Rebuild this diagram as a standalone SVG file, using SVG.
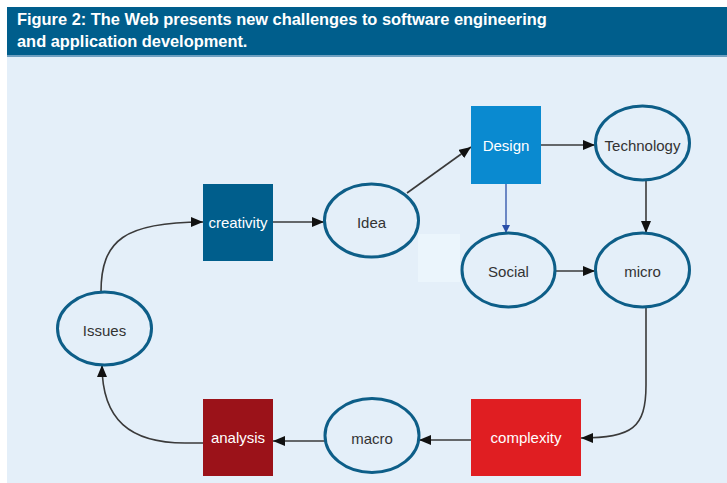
<svg xmlns="http://www.w3.org/2000/svg" width="727" height="483" viewBox="0 0 727 483">
  <defs>
    <style>
      .title { font-family: "Liberation Sans", Arial, sans-serif; font-weight: bold; font-size: 16.4px; fill: #ffffff; }
      .lbl { font-family: "Liberation Sans", Arial, sans-serif; font-size: 15px; fill: #333333; text-anchor: middle; dominant-baseline: central; }
      .lbl-w { font-family: "Liberation Sans", Arial, sans-serif; font-size: 15px; fill: #ffffff; text-anchor: middle; dominant-baseline: central; }
      .ell { fill: #e4eff9; stroke: #0d5e88; stroke-width: 3; }
      .edge { fill: none; stroke: #3a3a3a; stroke-width: 1.6; }
      .edge-blue { fill: none; stroke: #2a4fa8; stroke-width: 1.3; }
    </style>
    <marker id="arrow" viewBox="0 0 12 10" refX="12" refY="5" markerWidth="12" markerHeight="10" markerUnits="userSpaceOnUse" orient="auto">
      <path d="M0,0 L12,5 L0,10 Z" fill="#111111"/>
    </marker>
    <marker id="arrow-blue" viewBox="0 0 8 8" refX="8" refY="4" markerWidth="8" markerHeight="8" markerUnits="userSpaceOnUse" orient="auto">
      <path d="M0,0 L8,4 L0,8 Z" fill="#2a4fa8"/>
    </marker>
  </defs>

  <!-- page backdrop -->
  <rect x="0" y="0" width="727" height="483" fill="#ffffff"/>
  <rect x="7" y="7" width="720" height="476" fill="#e4eff9"/>

  <!-- title band -->
  <rect x="7" y="7" width="720" height="49" fill="#005e8c"/>
  <rect x="7" y="55" width="720" height="2" fill="#6e9fc0"/>
  <text class="title" x="17" y="25">Figure 2: The Web presents new challenges to software engineering</text>
  <text class="title" x="17" y="47">and application development.</text>

  <!-- pale panel behind the Idea / Social gap -->
  <rect x="418" y="234" width="42" height="48" fill="#ebf5fc"/>

  <!-- connectors -->
  <g id="connectors">
    <path class="edge" d="M101,292 C101,240 125,222 203,222" marker-end="url(#arrow)"/>
    <path class="edge" d="M273,222 L324,222" marker-end="url(#arrow)"/>
    <path class="edge" d="M407,193 L471,147" marker-end="url(#arrow)"/>
    <path class="edge" d="M541,145 L595,145" marker-end="url(#arrow)"/>
    <path class="edge-blue" d="M506,184 L506,233" marker-end="url(#arrow-blue)"/>
    <path class="edge" d="M646,180 L646,233" marker-end="url(#arrow)"/>
    <path class="edge" d="M555,271 L595,271" marker-end="url(#arrow)"/>
    <path class="edge" d="M646,307 L646,385 C646,428 632,438 581,438" marker-end="url(#arrow)"/>
    <path class="edge" d="M471,440 L419,440" marker-end="url(#arrow)"/>
    <path class="edge" d="M325,441 L273,441" marker-end="url(#arrow)"/>
    <path class="edge" d="M203,443 L185,443 C130,443 102,420 102,365" marker-end="url(#arrow)"/>
  </g>

  <!-- nodes -->
  <g id="node-design">
    <rect x="471" y="106" width="70" height="78" fill="#0a8ad0"/>
    <text class="lbl-w" x="506" y="145">Design</text>
  </g>
  <g id="node-technology">
    <ellipse class="ell" cx="642.5" cy="143" rx="47" ry="37"/>
    <text class="lbl" x="642.5" y="145">Technology</text>
  </g>
  <g id="node-idea">
    <ellipse class="ell" cx="371.5" cy="220.5" rx="47" ry="36.5"/>
    <text class="lbl" x="371.5" y="222">Idea</text>
  </g>
  <g id="node-creativity">
    <rect x="203" y="184" width="70" height="77" fill="#005e8c"/>
    <text class="lbl-w" x="238" y="222">creativity</text>
  </g>
  <g id="node-social">
    <ellipse class="ell" cx="508.5" cy="270" rx="46.5" ry="37"/>
    <text class="lbl" x="508.5" y="271">Social</text>
  </g>
  <g id="node-micro">
    <ellipse class="ell" cx="642.5" cy="270" rx="47" ry="37"/>
    <text class="lbl" x="642.5" y="271">micro</text>
  </g>
  <g id="node-issues">
    <ellipse class="ell" cx="104.5" cy="328.5" rx="47" ry="36.5"/>
    <text class="lbl" x="104.5" y="330">Issues</text>
  </g>
  <g id="node-analysis">
    <rect x="203" y="399" width="70" height="77" fill="#9b1219"/>
    <text class="lbl-w" x="238" y="437">analysis</text>
  </g>
  <g id="node-macro">
    <ellipse class="ell" cx="372" cy="435.5" rx="47" ry="37"/>
    <text class="lbl" x="372" y="438">macro</text>
  </g>
  <g id="node-complexity">
    <rect x="471" y="399" width="110" height="77" fill="#e01e22"/>
    <text class="lbl-w" x="526" y="437">complexity</text>
  </g>
</svg>
